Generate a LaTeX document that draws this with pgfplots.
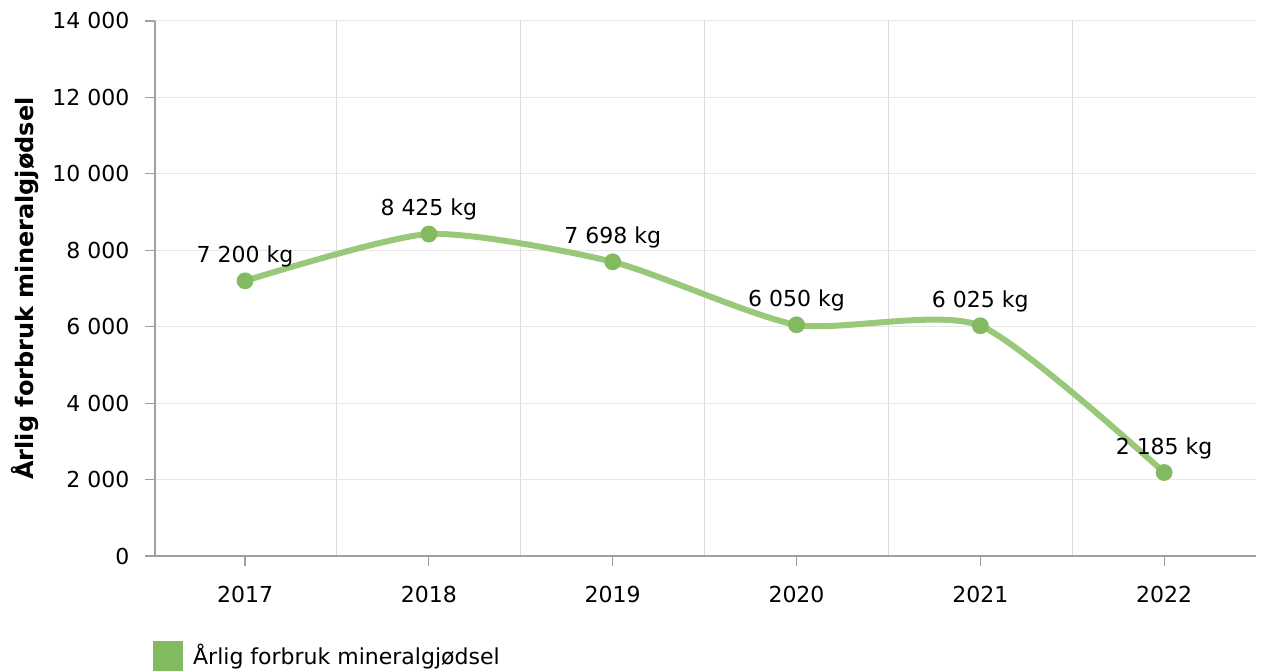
\documentclass[border=0pt]{standalone}
\usepackage{pgfplots}
\pgfplotsset{compat=1.18}
\usepackage{fontspec}
\setmainfont{DejaVu Sans}
\definecolor{linec}{RGB}{152,200,121}
\definecolor{markc}{RGB}{130,186,96}
\definecolor{gridc}{RGB}{230,230,230}
\definecolor{vgridc}{RGB}{220,220,220}
\definecolor{axc}{RGB}{160,160,160}
\begin{document}
\fontsize{11}{13.2}\selectfont
\begin{tikzpicture}
\useasboundingbox (-77.5pt,-58pt) rectangle (553pt,278pt);
\begin{axis}[
  at={(0pt,0pt)}, anchor=origin,
  scale only axis,
  width=550.5pt, height=267.5pt,
  xmin=2016.51, xmax=2022.5,
  ymin=0, ymax=14000,
  scaled y ticks=false,
  axis x line*=bottom, axis y line*=left,
  axis line style={draw=axc, line width=0.6pt},
  xtick={2017,2018,2019,2020,2021,2022},
  xticklabels={2017,2018,2019,2020,2021,2022},
  minor xtick={2017.5,2018.5,2019.5,2020.5,2021.5},
  ytick={0,2000,4000,6000,8000,10000,12000,14000},
  yticklabels={0,2 000,4 000,6 000,8 000,10 000,12 000,14 000},
  tick align=outside,
  major tick length=5pt,
  minor tick length=0pt,
  tick style={draw=axc, line width=0.6pt},
  ymajorgrids, xminorgrids,
  major grid style={draw=gridc, line width=0.5pt},
  minor grid style={draw=vgridc, line width=0.5pt},
  x tick label style={font=\fontsize{11}{13.2}\selectfont, anchor=north, yshift=-6pt},
  y tick label style={font=\fontsize{11}{13.2}\selectfont, anchor=east, xshift=-4pt},
  ylabel={\bfseries Årlig forbruk mineralgjødsel},
  ylabel style={font=\fontsize{12}{14.4}\selectfont, at={(axis description cs:-0.118,0.5)}, anchor=center},
  legend style={draw=none, fill=none, at={(axis description cs:-0.002,-0.157)}, anchor=north west, font=\fontsize{11}{13.2}\selectfont, inner sep=0pt, column sep=3pt},
  legend cell align=left,
  clip=false,
]
\addplot[draw=linec, line width=3pt, smooth, tension=0.4, forget plot] coordinates {
  (2017,7200) (2018,8425) (2019,7698) (2020,6050) (2021,6025) (2022,2185)};
\addplot[draw=none, only marks, mark=*, mark size=4pt, mark options={fill=markc, draw=markc},
  nodes near coords={\pgfplotspointmeta~kg},
  point meta=explicit symbolic,
  every node near coord/.style={font=\fontsize{11}{13.2}\selectfont, anchor=south, yshift=3pt, text=black},
  legend image code/.code={\fill[markc] (0pt,-7.5pt) rectangle (15pt,7.5pt);}
] coordinates {
  (2017,7200) [7 200] (2018,8425) [8 425] (2019,7698) [7 698] (2020,6050) [6 050] (2021,6025) [6 025] (2022,2185) [2 185]};
\addlegendentry{Årlig forbruk mineralgjødsel}
\end{axis}
\end{tikzpicture}
\end{document}
